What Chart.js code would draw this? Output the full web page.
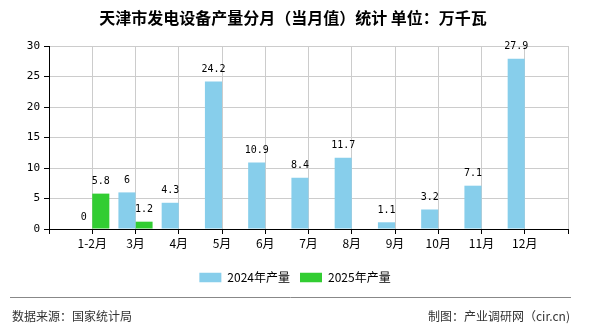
<!DOCTYPE html>
<html>
<head>
<meta charset="utf-8">
<script src="https://cdn.jsdelivr.net/npm/chart.js@4.4.1/dist/chart.umd.min.js"></script>
<style>
  html, body { margin: 0; padding: 0; background: #fff; }
  #chart { display: block; }
</style>
</head>
<body>
<canvas id="chart" width="590" height="330"></canvas>
<script>
(function() {
  'use strict';

  // ── Data ─────────────────────────────────────────────
  const months     = ['1-2月', '3月', '4月', '5月', '6月', '7月', '8月', '9月', '10月', '11月', '12月'];
  const values2024 = [0, 6, 4.3, 24.2, 10.9, 8.4, 11.7, 1.1, 3.2, 7.1, 27.9];
  const values2025 = [5.8, 1.2];
  const yTicks     = [0, 5, 10, 15, 20, 25, 30];

  const TITLE  = '天津市发电设备产量分月（当月值）统计 单位：万千瓦';
  const SOURCE = '数据来源：国家统计局';
  const MAKER  = '制图：产业调研网（cir.cn)';

  const COLORS = {
    y2024: '#87CEEB',
    y2025: '#32CD32',
    grid:  '#CCCCCC',
    axis:  '#000000',
    text:  '#000000',
    foot:  '#333333',
    rule:  '#888888'
  };

  const CJK  = '"Noto Sans CJK SC", "Noto Sans", sans-serif';
  const MONO = '"DejaVu Sans Mono", "Liberation Mono", monospace';

  // empty slot on each side so month ticks sit on the inner grid lines
  const labels = [''].concat(months, ['']);
  const pad = (arr) => {
    const out = [null];
    for (let i = 0; i < months.length; i++) out.push(i < arr.length ? arr[i] : null);
    out.push(null);
    return out;
  };

  // ── Value labels above bars ──────────────────────────
  const valueLabels = {
    id: 'valueLabels',
    afterDatasetsDraw(chart) {
      const ctx = chart.ctx;
      ctx.save();
      ctx.font = '10px ' + MONO;
      ctx.fillStyle = COLORS.text;
      ctx.textAlign = 'center';
      ctx.textBaseline = 'middle';
      chart.data.datasets.forEach((ds, di) => {
        chart.getDatasetMeta(di).data.forEach((bar, i) => {
          const v = ds.data[i];
          if (v === null || v === undefined) return;
          ctx.fillText(String(v), bar.x, bar.y - 12);
        });
      });
      ctx.restore();
    }
  };

  // ── Title and footer ─────────────────────────────────
  const frame = {
    id: 'frame',
    afterDraw(chart) {
      const ctx = chart.ctx;
      ctx.save();
      ctx.fillStyle = COLORS.text;
      ctx.font = 'bold 16px ' + CJK;
      ctx.textAlign = 'center';
      ctx.textBaseline = 'middle';
      ctx.fillText(TITLE, 293, 18);

      ctx.strokeStyle = COLORS.rule;
      ctx.lineWidth = 1;
      ctx.beginPath();
      ctx.moveTo(10, 297.5);
      ctx.lineTo(571, 297.5);
      ctx.stroke();

      ctx.fillStyle = COLORS.foot;
      ctx.font = '12px ' + CJK;
      ctx.textAlign = 'left';
      ctx.fillText(SOURCE, 12, 316);
      ctx.textAlign = 'right';
      ctx.fillText(MAKER, 570, 316);
      ctx.restore();
    }
  };

  Chart.defaults.font.family = CJK;
  Chart.defaults.color = COLORS.text;

  new Chart(document.getElementById('chart'), {
    type: 'bar',
    data: {
      labels: labels,
      datasets: [
        {
          label: '2024年产量',
          data: pad(values2024),
          backgroundColor: COLORS.y2024,
          borderWidth: 0,
          categoryPercentage: 0.79,
          barPercentage: 1
        },
        {
          label: '2025年产量',
          data: pad(values2025),
          backgroundColor: COLORS.y2025,
          borderWidth: 0,
          categoryPercentage: 0.79,
          barPercentage: 1
        }
      ]
    },
    options: {
      responsive: false,
      animation: false,
      devicePixelRatio: 1,
      layout: { padding: { top: 46, right: 0, bottom: 36.5, left: 0 } },
      plugins: {
        legend: {
          position: 'bottom',
          labels: {
            boxWidth: 22,
            boxHeight: 9.5,
            padding: 10,
            color: COLORS.text,
            font: { size: 12, family: CJK }
          }
        },
        tooltip: { enabled: false }
      },
      scales: {
        x: {
          offset: false,
          grid: {
            color: COLORS.grid,
            offset: false,
            tickColor: COLORS.axis,
            tickLength: 5
          },
          border: { color: COLORS.axis, width: 1 },
          ticks: {
            autoSkip: false,
            maxRotation: 0,
            padding: 2,
            color: COLORS.text,
            font: { size: 12, family: CJK }
          },
          afterFit: (s) => { s.height = 32.5; }
        },
        y: {
          min: 0,
          max: 30,
          afterBuildTicks: (s) => { s.ticks = yTicks.map(v => ({ value: v })); },
          grid: {
            color: COLORS.grid,
            tickColor: COLORS.axis,
            tickLength: 5
          },
          border: { color: COLORS.axis, width: 1 },
          ticks: {
            padding: 4,
            color: COLORS.text,
            font: { size: 11, family: MONO }
          },
          afterFit: (s) => { s.width = 49; }
        },
        // spacer on the right keeping the legend centred on the full canvas
        yRight: {
          position: 'right',
          display: true,
          grid: { display: false, drawTicks: false },
          border: { display: false },
          ticks: { display: false },
          afterFit: (s) => { s.width = 22; }
        }
      }
    },
    plugins: [valueLabels, frame]
  });
})();
</script>
</body>
</html>
